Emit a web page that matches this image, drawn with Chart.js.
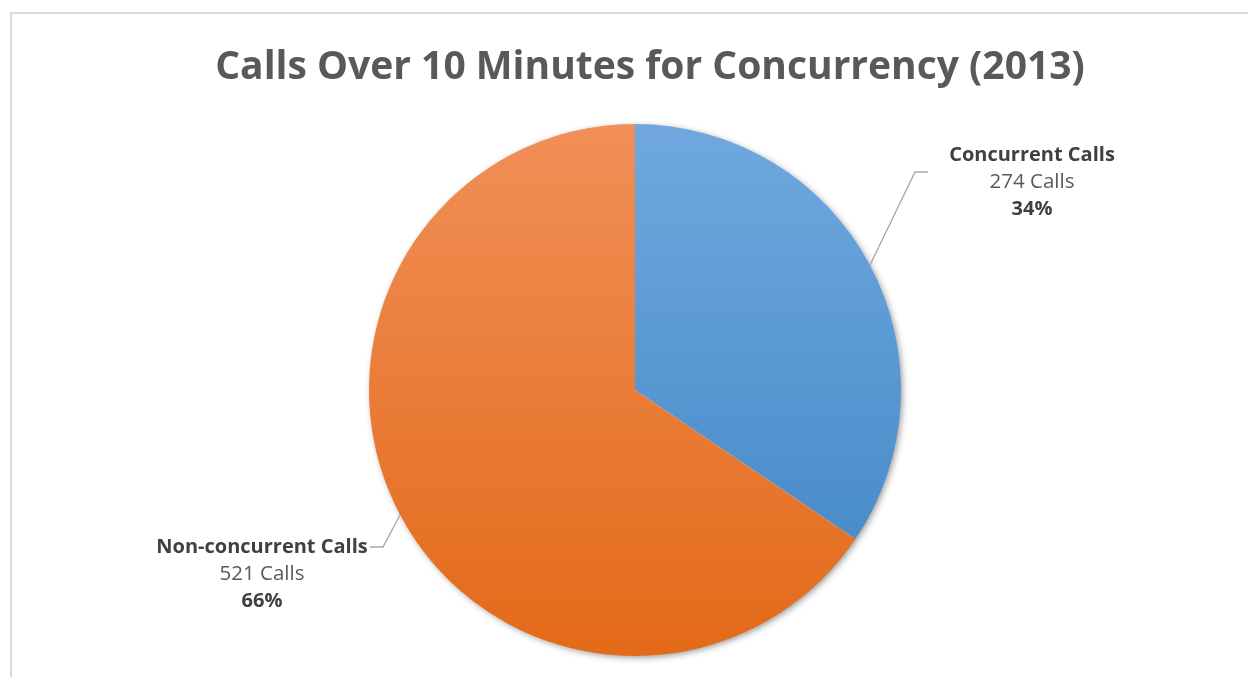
<!DOCTYPE html>
<html>
<head>
<meta charset="utf-8">
<script src="https://cdn.jsdelivr.net/npm/chart.js@4/dist/chart.umd.min.js"></script>
<style>
  html, body { margin: 0; padding: 0; background: #ffffff; overflow: hidden; }
  #frame {
    position: absolute; left: 10px; top: 12px; width: 1260px; height: 700px;
    border: 2px solid #d9d9d9; box-sizing: border-box;
  }
  #wrap { position: absolute; left: 0; top: 0; width: 1248px; height: 677px; }
</style>
</head>
<body>
<div id="frame"></div>
<div id="wrap"><canvas id="pie" width="1248" height="677"></canvas></div>
<script>
// Call counts per category
const categories = ['Concurrent Calls', 'Non-concurrent Calls'];
const callCounts = [274, 521];
const unitLabel = 'Calls';
const chartTitle = 'Calls Over 10 Minutes for Concurrency (2013)';

// Vertical gradient stops for each slice (top colour, bottom colour)
const sliceColors = [
  ['#70a8de', '#3e85c6'],
  ['#f18f58', '#e36a18']
];

// Label block placement: text centre, first baseline, leader elbow and end
const calloutLayout = [
  { textX: 1032, textY: 161, elbow: [915, 172], end: [928, 172] },
  { textX: 262, textY: 553, elbow: [383, 547], end: [370, 547] }
];

const FONT = '"Open Sans", "DejaVu Sans", sans-serif';
const LINE_GAP = 27;

function sliceGradient(ctx) {
  const idx = ctx.dataIndex;
  const chart = ctx.chart;
  const area = chart.chartArea;
  if (!area) return sliceColors[idx][0];
  const g = chart.ctx.createLinearGradient(0, area.top, 0, area.bottom);
  g.addColorStop(0, sliceColors[idx][0]);
  g.addColorStop(1, sliceColors[idx][1]);
  return g;
}

// Soft drop shadow under the whole pie
const pieShadow = {
  id: 'pieShadow',
  beforeDatasetsDraw(chart) {
    const arc = chart.getDatasetMeta(0).data[0];
    if (!arc) return;
    const { x, y, outerRadius } = arc.getProps(['x', 'y', 'outerRadius'], true);
    const c = chart.ctx;
    c.save();
    c.shadowColor = 'rgba(0,0,0,0.45)';
    c.shadowBlur = 7;
    c.shadowOffsetX = 2;
    c.shadowOffsetY = 2;
    c.fillStyle = '#ffffff';
    c.beginPath();
    c.arc(x, y, outerRadius - 1, 0, Math.PI * 2);
    c.fill();
    c.restore();
  }
};

// Title plus callout labels with leader lines
const callouts = {
  id: 'callouts',
  afterDraw(chart) {
    const c = chart.ctx;
    c.save();
    c.fillStyle = '#595959';
    c.font = 'bold 39px ' + FONT;
    c.textAlign = 'center';
    c.textBaseline = 'alphabetic';
    c.fillText(chartTitle, 650, 79);

    const data = chart.data.datasets[0].data;
    const total = data.reduce((a, b) => a + b, 0);
    const meta = chart.getDatasetMeta(0);
    meta.data.forEach((arc, i) => {
      const p = arc.getProps(['x', 'y', 'startAngle', 'endAngle', 'outerRadius'], true);
      const mid = (p.startAngle + p.endAngle) / 2;
      const ex = p.x + Math.cos(mid) * p.outerRadius;
      const ey = p.y + Math.sin(mid) * p.outerRadius;
      const L = calloutLayout[i];
      c.strokeStyle = '#a6a6a6';
      c.lineWidth = 1.3;
      c.beginPath();
      c.moveTo(ex, ey);
      c.lineTo(L.elbow[0], L.elbow[1]);
      c.lineTo(L.end[0], L.end[1]);
      c.stroke();

      c.textAlign = 'center';
      c.fillStyle = '#404040';
      c.font = 'bold 20px ' + FONT;
      c.fillText(chart.data.labels[i], L.textX, L.textY);
      c.fillStyle = '#595959';
      c.font = '20.5px ' + FONT;
      c.fillText(data[i] + ' ' + unitLabel, L.textX, L.textY + LINE_GAP);
      c.fillStyle = '#404040';
      c.font = 'bold 20px ' + FONT;
      c.fillText(Math.round(data[i] / total * 100) + '%', L.textX, L.textY + LINE_GAP * 2);
    });
    c.restore();
  }
};

new Chart(document.getElementById('pie'), {
  type: 'pie',
  data: {
    labels: categories,
    datasets: [{
      data: callCounts,
      backgroundColor: sliceGradient,
      borderWidth: 0
    }]
  },
  options: {
    responsive: false,
    animation: false,
    layout: { padding: { left: 369, right: 347, top: 124, bottom: 21 } },
    plugins: {
      legend: { display: false },
      tooltip: { enabled: false },
      title: { display: false }
    }
  },
  plugins: [pieShadow, callouts]
});
</script>
</body>
</html>
